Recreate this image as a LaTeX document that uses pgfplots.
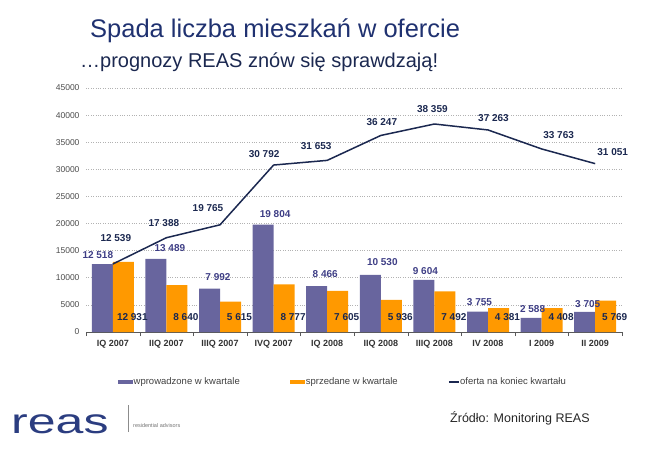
\documentclass[border=0pt]{standalone}
\usepackage{fontspec}
\setmainfont{Liberation Sans}
\usepackage{pgfplots}
\pgfplotsset{compat=1.18}
\definecolor{purp}{HTML}{68659E}
\definecolor{orng}{HTML}{FF9900}
\definecolor{navy}{HTML}{1B2850}
\definecolor{plab}{HTML}{3E3E85}
\definecolor{ttl}{HTML}{1F3170}
\definecolor{logo}{HTML}{2B3D80}
\tikzset{
  pl/.style={font=\bfseries\fontsize{10}{12}\selectfont, text=plab, inner sep=0pt, anchor=center},
  ll/.style={font=\bfseries\fontsize{10}{12}\selectfont, text=navy, inner sep=0pt, anchor=center},
  ol/.style={font=\bfseries\fontsize{10}{12}\selectfont, text=navy, inner sep=0pt, anchor=center},
}
\begin{document}
\begin{tikzpicture}
\useasboundingbox (0,0) rectangle (664pt,451pt);
\node[anchor=base west, inner sep=0pt, text=ttl, font=\fontsize{25.5}{28}\selectfont] at (90pt,413pt) {Spada liczba mieszkań w ofercie};
\node[anchor=base west, inner sep=0pt, text=navy, font=\fontsize{20}{24}\selectfont] at (80pt,384pt) {…prognozy REAS znów się sprawdzają!};
\begin{axis}[
  at={(86pt,119pt)}, anchor=south west, scale only axis,
  width=536pt, height=244pt,
  xmin=-0.5, xmax=9.5, ymin=0, ymax=45000,
  clip=false,
  axis x line=bottom, axis y line=left,
  x axis line style={-, draw=black!65, line width=0.8pt},
  y axis line style={draw=none},
  xtick={0,...,9},
  xticklabels={IQ 2007, IIQ 2007, IIIQ 2007, IVQ 2007, IQ 2008, IIQ 2008, IIIQ 2008, IV 2008, I 2009, II 2009},
  minor xtick={-0.5,0.5,...,9.5},
  major tick length=0pt,
  minor tick length=4pt,
  tick align=outside,
  xtick style={draw=black!65},
  ytick={0,5000,...,45000},
  ytick style={draw=none},
  ymajorgrids,
  major grid style={dotted, black!30, line width=0.6pt},
  scaled y ticks=false,
  /pgf/number format/assume math mode=true,
  /pgf/number format/set thousands separator={},
  yticklabel style={font=\fontsize{8.5}{10}\selectfont, text=black!70, xshift=-3pt},
  xticklabel style={font=\bfseries\fontsize{9}{10}\selectfont, text=black!80, yshift=-5pt},
  legend style={at={(axis description cs:0.0597,-0.205)}, anchor=west, draw=none, fill=none,
    font=\fontsize{9.5}{11}\selectfont, text=black!75, inner sep=0pt,
    nodes={inner sep=0.5pt},
    /tikz/every even column/.append style={column sep=50pt}},
  legend columns=3,
]
\addplot[ybar, bar width=21pt, bar shift=-10.5pt, fill=purp, draw=none,
  legend image code/.code={\fill[purp] (0pt,-2pt) rectangle (15pt,2pt);}]
  coordinates {(0,12518) (1,13489) (2,7992) (3,19804) (4,8466) (5,10530) (6,9604) (7,3755) (8,2588) (9,3705)};
\addplot[ybar, bar width=21pt, bar shift=10.5pt, fill=orng, draw=none,
  legend image code/.code={\fill[orng] (0pt,-2pt) rectangle (15pt,2pt);}]
  coordinates {(0,12931) (1,8640) (2,5615) (3,8777) (4,7605) (5,5936) (6,7492) (7,4381) (8,4408) (9,5769)};
\addplot[navy, line width=1.5pt, mark=none,
  legend image code/.code={\draw[navy, line width=1.5pt] (0pt,0pt) -- (10pt,0pt);}]
  coordinates {(0,12539) (1,17388) (2,19765) (3,30792) (4,31653) (5,36247) (6,38359) (7,37263) (8,33763) (9,31051)};
\legend{wprowadzone w kwartale, sprzedane w kwartale, oferta na koniec kwartału}
% purple labels
\node[pl, xshift=-15pt, yshift=9pt] at (axis cs:0,12518) {12 518};
\node[pl, xshift=3.5pt, yshift=11pt] at (axis cs:1,13489) {13 489};
\node[pl, xshift=-2pt, yshift=12pt] at (axis cs:2,7992) {7 992};
\node[pl, xshift=1.5pt, yshift=11pt] at (axis cs:3,19804) {19 804};
\node[pl, xshift=-2pt, yshift=12pt] at (axis cs:4,8466) {8 466};
\node[pl, xshift=1.5pt, yshift=13pt] at (axis cs:5,10530) {10 530};
\node[pl, xshift=-9pt, yshift=9pt] at (axis cs:6,9604) {9 604};
\node[pl, xshift=-8.5pt, yshift=10pt] at (axis cs:7,3755) {3 755};
\node[pl, xshift=-9pt, yshift=9pt] at (axis cs:8,2588) {2 588};
\node[pl, xshift=-7.5pt, yshift=8pt] at (axis cs:9,3705) {3 705};
% line labels
\node[ll, xshift=3pt, yshift=26pt] at (axis cs:0,12539) {12 539};
\node[ll, xshift=-2.5pt, yshift=15pt] at (axis cs:1,17388) {17 388};
\node[ll, xshift=-12pt, yshift=17pt] at (axis cs:2,19765) {19 765};
\node[ll, xshift=-9.5pt, yshift=11pt] at (axis cs:3,30792) {30 792};
\node[ll, xshift=-11pt, yshift=14pt] at (axis cs:4,31653) {31 653};
\node[ll, xshift=1pt, yshift=13.5pt] at (axis cs:5,36247) {36 247};
\node[ll, xshift=-2pt, yshift=15pt] at (axis cs:6,38359) {38 359};
\node[ll, xshift=5.5pt, yshift=12pt] at (axis cs:7,37263) {37 263};
\node[ll, xshift=17pt, yshift=14pt] at (axis cs:8,33763) {33 763};
\node[ll, xshift=17.5pt, yshift=12pt] at (axis cs:9,31051) {31 051};
% orange labels
\node[ol] at (axis cs:0.364,2766) {12 931};
\node[ol] at (axis cs:1.364,2766) {8 640};
\node[ol] at (axis cs:2.364,2766) {5 615};
\node[ol] at (axis cs:3.364,2766) {8 777};
\node[ol] at (axis cs:4.364,2766) {7 605};
\node[ol] at (axis cs:5.364,2766) {5 936};
\node[ol] at (axis cs:6.364,2766) {7 492};
\node[ol] at (axis cs:7.364,2766) {4 381};
\node[ol] at (axis cs:8.364,2766) {4 408};
\node[ol] at (axis cs:9.364,2766) {5 769};
\end{axis}
% footer
\node[anchor=base west, inner sep=0pt, text=logo, font=\fontsize{35}{40}\selectfont] at (11pt,18pt) {\scalebox{1.43}[1]{reas}};
\draw[black!45, line width=0.6pt] (128pt,19pt) -- (128pt,46pt);
\node[anchor=west, inner sep=0pt, text=black!55, font=\fontsize{5.5}{6}\selectfont] at (133pt,25pt) {residential advisors};
\node[anchor=west, inner sep=0pt, text=black!85, font=\fontsize{12.5}{14}\selectfont] at (450pt,33pt) {Źródło: Monitoring REAS};
\end{tikzpicture}
\end{document}
